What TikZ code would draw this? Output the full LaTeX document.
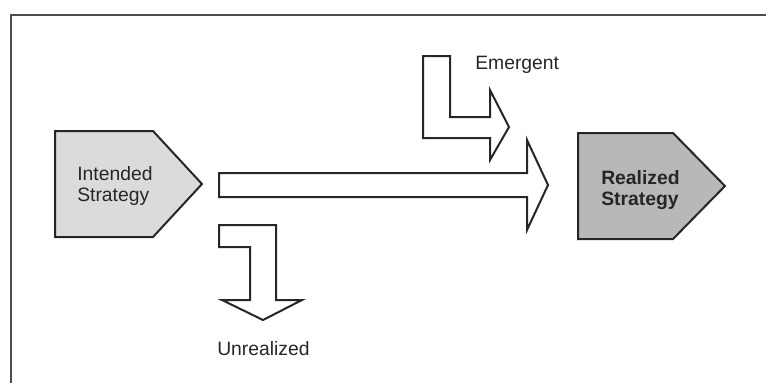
\documentclass[tikz,border=0pt]{standalone}
\usepackage{fontspec}
\setmainfont{Liberation Sans}
\begin{document}
\begin{tikzpicture}[x=0.75pt,y=-0.75pt,
  frameline/.style={draw=black!70,line width=1.6pt},
  blk/.style={draw=black!85,line width=1.5pt,line join=miter},
  lbl/.style={font=\fontsize{14.5}{16}\selectfont,inner sep=0pt,text=black!85},
  boxlbl/.style={lbl,align=left,anchor=west}]
\useasboundingbox (0,0) rectangle (766,383);
% frame (cropped at right and bottom)
\draw[frameline] (11,383) -- (11,15) -- (766,15);
% Intended strategy pentagon
\draw[blk,fill=black!14] (55,131) -- (153,131) -- (202,184) -- (153,237) -- (55,237) -- cycle;
\node[boxlbl] (intended) at (77,186) {Intended\\Strategy};
% Realized strategy pentagon
\draw[blk,fill=black!28] (578,133) -- (673,133) -- (725,186) -- (673,239) -- (578,239) -- cycle;
\node[boxlbl,font=\fontsize{14.5}{16}\selectfont\bfseries] (realized) at (601,190) {Realized\\Strategy};
% main block arrow
\draw[blk,fill=white] (219,173) -- (527,173) -- (527,140) -- (548,185) -- (527,230) -- (527,197) -- (219,197) -- cycle;
% emergent block arrow
\draw[blk,fill=white] (423,56) -- (450,56) -- (450,117) -- (490,117) -- (490,90) -- (509,127) -- (490,160) -- (490,138) -- (423,138) -- cycle;
\node[lbl,anchor=west] (emergent) at (475,65) {Emergent};
% unrealized block arrow
\draw[blk,fill=white] (219,225) -- (276,225) -- (276,300) -- (302,300) -- (263,320) -- (222,300) -- (250,300) -- (250,247) -- (219,247) -- cycle;
\node[lbl,anchor=west] (unrealized) at (217,349) {Unrealized};
\end{tikzpicture}
\end{document}
